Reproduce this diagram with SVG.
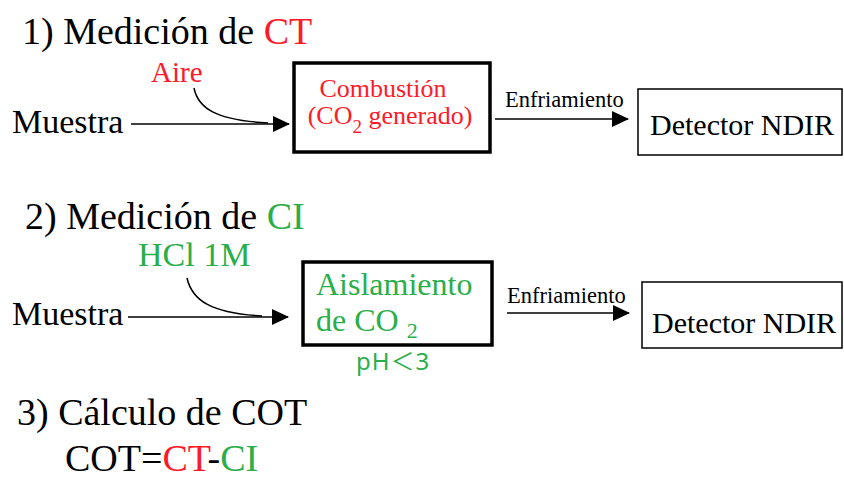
<svg xmlns="http://www.w3.org/2000/svg" width="844" height="479" viewBox="0 0 844 479">
<style>
text{font-family:'Liberation Serif','Times New Roman',Times,serif;fill:#000}
.t{font-size:38px}
.red{fill:#ff1a2a}
.grn{fill:#2aae4a}
.lbl{font-size:34px}
.enf{font-size:22.5px}
.box{fill:#fff;stroke:#000;stroke-width:3.5}
.det{fill:#fff;stroke:#000;stroke-width:1.5}
.ln{fill:none;stroke:#000;stroke-width:1.5}
.sans{font-family:'Noto Sans','Noto Sans CJK JP',sans-serif}
</style>
<defs>
<marker id="ahb" markerWidth="17" markerHeight="16" refX="16" refY="8" orient="auto" markerUnits="userSpaceOnUse" viewBox="0 0 17 16">
<path d="M0,0 L17,8 L0,16 Z" fill="#000"/>
</marker>
</defs>

<g id="titles">
<text class="t" x="22" y="44">1) Medición de <tspan class="red">CT</tspan></text>
<text class="t" x="25" y="229">2) Medición de <tspan class="grn">CI</tspan></text>
<text class="t" x="17" y="425">3) Cálculo de COT</text>
<text class="t" x="65" y="471">COT=<tspan class="red">CT</tspan>-<tspan class="grn">CI</tspan></text>
</g>

<g id="muestra1"><text class="lbl" x="12" y="133">Muestra</text></g>
<g id="aire"><text class="red" x="151" y="82" font-size="29">Aire</text></g>
<g id="combustion">
<rect class="box" x="294" y="63" width="196" height="89"/>
<text class="red" x="383" y="97" font-size="26" text-anchor="middle">Combustión</text>
<text class="red" x="390" y="124" font-size="26" text-anchor="middle">(CO<tspan font-size="19" dy="9">2</tspan><tspan dy="-9"> generado)</tspan></text>
</g>
<g id="enf1"><text class="enf" x="505" y="107">Enfriamiento</text></g>
<g id="detector1">
<rect class="det" x="638" y="89" width="204" height="66"/>
<text x="650" y="135" font-size="30">Detector NDIR</text>
</g>

<g id="muestra2"><text class="lbl" x="12" y="325">Muestra</text></g>
<g id="hcl"><text class="grn" x="138" y="266" font-size="34">HCl 1M</text></g>
<g id="aislamiento">
<rect class="box" x="303" y="262" width="189" height="83"/>
<text class="grn" x="316" y="295" font-size="32">Aislamiento</text>
<text class="grn" x="316" y="331" font-size="32">de CO <tspan font-size="22" dy="7">2</tspan></text>
</g>
<g id="ph"><text class="grn sans" x="356" y="370" font-size="24" letter-spacing="1">pH＜3</text></g>
<g id="enf2"><text class="enf" x="507" y="303">Enfriamiento</text></g>
<g id="detector2">
<rect class="det" x="642" y="282" width="200" height="66"/>
<text x="652" y="333" font-size="30">Detector NDIR</text>
</g>

<g id="connectors">
<line class="ln" x1="131" y1="124" x2="289" y2="124" marker-end="url(#ahb)"/>
<path class="ln" d="M194,88 C198,108 215,120 268,123"/>
<line class="ln" x1="495" y1="119" x2="628" y2="119" marker-end="url(#ahb)"/>
<line class="ln" x1="128" y1="317" x2="288" y2="317" marker-end="url(#ahb)"/>
<path class="ln" d="M187,278 C192,300 210,313 262,316"/>
<line class="ln" x1="507" y1="313" x2="629" y2="313" marker-end="url(#ahb)"/>
</g>
</svg>
